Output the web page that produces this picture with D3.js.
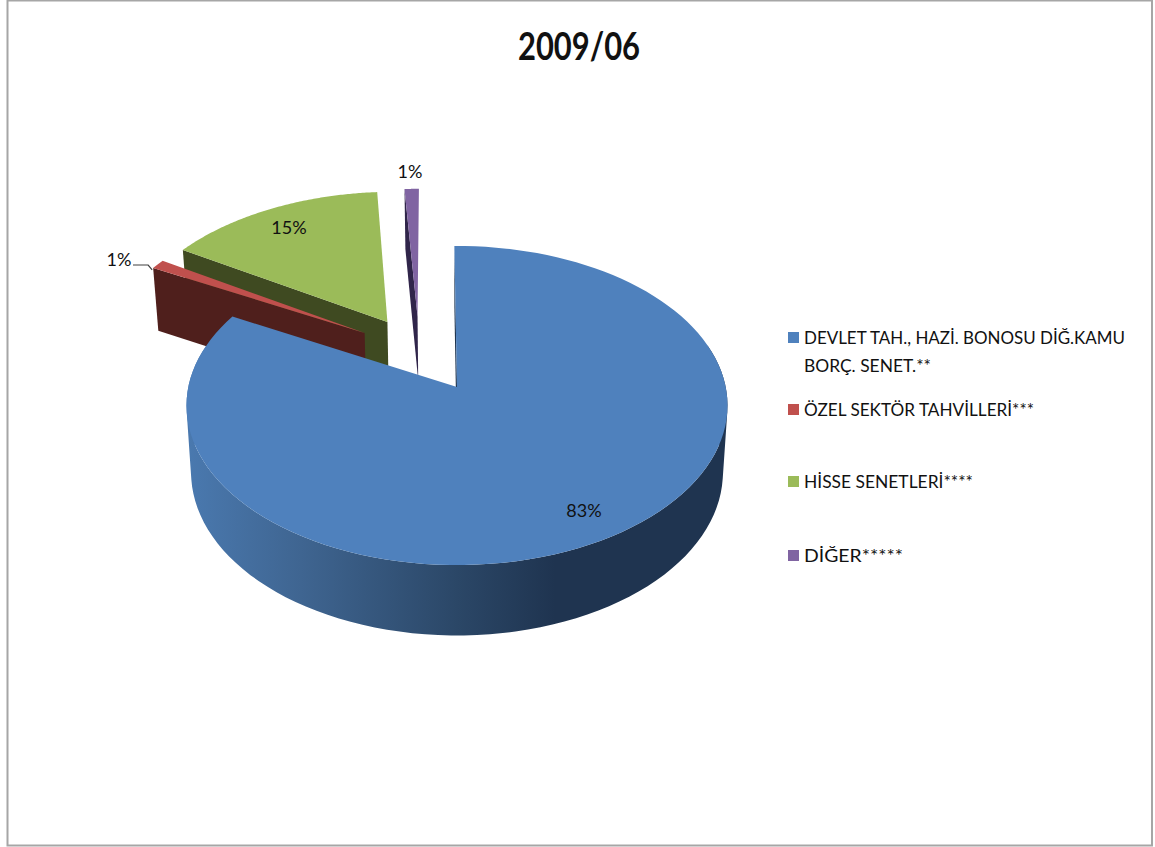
<!DOCTYPE html>
<html>
<head>
<meta charset="utf-8">
<script src="https://cdn.jsdelivr.net/npm/d3@7/dist/d3.min.js"></script>
<style>
html,body{margin:0;padding:0;background:#fff}
svg{display:block}
text{font-family:Lato,"Noto Sans",sans-serif;fill:#111}
</style>
</head>
<body>
<svg id="chart" width="1155" height="847"></svg>
<script>
const title = "2009/06";
const categories = ["DEVLET TAH., HAZİ. BONOSU DİĞ.KAMU|BORÇ. SENET.**", "ÖZEL SEKTÖR TAHVİLLERİ***", "HİSSE SENETLERİ****", "DİĞER*****"];
const shares = [83, 1, 15, 1];
const topColors = ["#4f81bd", "#c0504d", "#9bbb59", "#8064a2"];
const cutColors = ["#1f3550", "#4f1f1c", "#3f4a21", "#30254a"];
// Displacement of each exploded wedge within the pie's own plane, as a fraction of the radius.
const explodeU = [0, -0.358, -0.272, -0.155];
const explodeV = [0, -0.357, -0.434, -0.475];
const wedgeScale = [1, 1, 1.015, 1];
const labelPos = [[584, 512], [119, 261], [289, 229], [410, 173]];
const legendY = [338, 410, 482, 556];
const legendWidths = [[321, 127], [230], [169], [99]];

const svg = d3.select("#chart");

// Frame around the chart area
svg.append("rect").attr("x", 7.5).attr("y", 0.5).attr("width", 1144.5).attr("height", 845)
  .attr("fill", "#fff").attr("stroke", "#a6a6a6").attr("stroke-width", 2);

svg.append("text").attr("x", 579).attr("y", 60).attr("text-anchor", "middle")
  .attr("font-size", 39).attr("font-weight", 700).attr("fill", "#000")
  .attr("textLength", 122).attr("lengthAdjust", "spacingAndGlyphs").text(title);

// Perspective view of the pie plane
const cx = 457, cy = 387, a = 268.7, b = 157.4, persp = 0.116;
const project = (u, v) => {
  const w = 1 - persp * v;
  return [cx + a * u / w, cy + b * v / w];
};
const depth = v => 66.2 + 4.2 * v;
const shrink = 0.017;
// Point on the lower face of the pie, directly below the given plane position
const projectLow = (u, v) => {
  const [x, y] = project(u, v);
  return [x - (x - cx) * shrink, y + depth(v)];
};

const rotation = -0.011;
const pie = d3.pie().sort(null).startAngle(rotation).endAngle(2 * Math.PI + rotation).value(d => d);
const arcs = pie(shares);
const line = d3.line();

const rimAngles = (s, e) => d3.range(0, 121).map(i => s + (e - s) * i / 120);
const polar = (t, i) => [wedgeScale[i] * Math.sin(t) + explodeU[i], -wedgeScale[i] * Math.cos(t) + explodeV[i]];

const grad = svg.append("defs").append("linearGradient").attr("id", "wallShade")
  .attr("gradientUnits", "userSpaceOnUse").attr("x1", 187).attr("x2", 728).attr("y1", 0).attr("y2", 0);
[[0, "#4a79af"], [0.21, "#3f6591"], [0.5, "#2b4767"], [0.68, "#1f3450"], [1, "#1f3450"]]
  .forEach(([o, c]) => grad.append("stop").attr("offset", o).attr("stop-color", c));

// The wall is a set of quads wound the same way, so overlapping parts stay filled
const wallPath = rim => d3.pairs(rim).map(([p, q]) => {
  const quad = [project(...p), project(...q), projectLow(...q), projectLow(...p)];
  if (d3.polygonArea(quad) < 0) quad.reverse();
  return line(quad) + "Z";
}).join("");

// Paint back wedges first so the large wedge overlaps the others
const order = [3, 2, 1, 0];
const g = svg.append("g");
order.forEach(i => {
  const d = arcs[i];
  const angles = rimAngles(d.startAngle, d.endAngle);
  const rim = angles.map(t => polar(t, i));
  const apex = [explodeU[i], explodeV[i]];
  const s = g.append("g").attr("class", "slice");

  // outer wall: only the part of the rim that faces the viewer
  const frontRim = angles.filter(t => Math.cos(t) < 0.3).map(t => polar(t, i));
  if (frontRim.length > 1) {
    s.append("path").attr("d", wallPath(frontRim)).attr("fill", i === 0 ? "url(#wallShade)" : cutColors[i]);
  }

  // cut face at the leading edge of the wedge
  const first = rim[0];
  const cut = [project(...first), project(...apex), projectLow(...apex), projectLow(...first)];
  s.append("path").attr("d", line(cut) + "Z").attr("fill", cutColors[i]);

  // top face
  const top = [project(...apex)].concat(rim.map(p => project(...p)));
  s.append("path").attr("d", line(top) + "Z").attr("fill", topColors[i]);
});

// Leader line for the small corporate-bond wedge
const redEdge = project(...polar(arcs[1].startAngle, 1));
svg.append("path")
  .attr("d", `M${labelPos[1][0] + 14},${labelPos[1][1] + 4}H${redEdge[0] - 5}L${redEdge[0] - 1},${redEdge[1] + 2}`)
  .attr("fill", "none").attr("stroke", "#404040").attr("stroke-width", 1.2);

shares.forEach((v, i) => {
  svg.append("text").attr("x", labelPos[i][0]).attr("y", labelPos[i][1])
    .attr("text-anchor", "middle").attr("dominant-baseline", "middle")
    .attr("font-size", 18).text(v + "%");
});

// Legend
const legend = svg.append("g");
categories.forEach((c, i) => {
  legend.append("rect").attr("x", 788).attr("y", legendY[i] - 6).attr("width", 11).attr("height", 11)
    .attr("fill", topColors[i]);
  c.split("|").forEach((t, k) => {
    legend.append("text").attr("x", 804).attr("y", legendY[i] + 6 + k * 28)
      .attr("font-size", 18).attr("textLength", legendWidths[i][k])
      .attr("lengthAdjust", "spacingAndGlyphs").text(t);
  });
});
</script>
</body>
</html>
